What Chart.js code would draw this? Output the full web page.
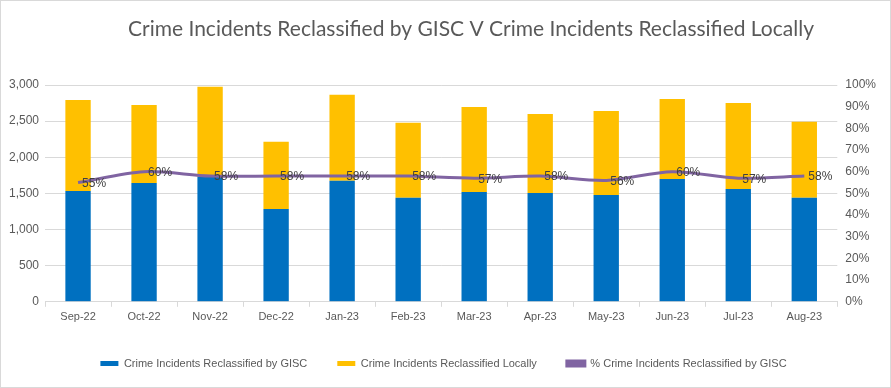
<!DOCTYPE html>
<html>
<head>
<meta charset="utf-8">
<script src="https://cdn.jsdelivr.net/npm/chart.js@4.4.0/dist/chart.umd.min.js"></script>
<style>
  html, body { margin: 0; padding: 0; background: #fff; }
  #wrap { position: relative; width: 889px; height: 386px; border: 1px solid #d9d9d9; }
</style>
</head>
<body>
<div id="wrap"><canvas id="chart"></canvas></div>
<script>
const months = ['Sep-22', 'Oct-22', 'Nov-22', 'Dec-22', 'Jan-23', 'Feb-23', 'Mar-23', 'Apr-23', 'May-23', 'Jun-23', 'Jul-23', 'Aug-23'];
const byGisc = [1532, 1643, 1731, 1283, 1675, 1440, 1518, 1505, 1477, 1698, 1560, 1440];
const locally = [1260, 1080, 1246, 932, 1191, 1038, 1177, 1093, 1163, 1108, 1191, 1052];
const pctGisc = [0.55, 0.60, 0.58, 0.58, 0.58, 0.58, 0.57, 0.58, 0.56, 0.60, 0.57, 0.58];
const chartTitle = 'Crime Incidents Reclassified by GISC V Crime Incidents Reclassified Locally';

const textColor = '#595959';
const gridColor = '#d9d9d9';
const tickFont = { size: 12, family: '"Liberation Sans", Arial' };

// title sits a little right of centre in the original, so draw it ourselves
const titlePlugin = {
    id: 'titlePlugin',
    afterDraw(chart) {
        const ctx = chart.ctx;
        ctx.save();
        ctx.font = '21px Lato, "Open Sans", sans-serif';
        ctx.fillStyle = textColor;
        ctx.textAlign = 'center';
        ctx.textBaseline = 'middle';
        ctx.fillText(chartTitle, 470, 28);
        ctx.restore();
    }
};

// draws the % labels just right of each point on the line
const lineLabels = {
    id: 'lineLabels',
    afterDatasetsDraw(chart) {
        const ctx = chart.ctx;
        const meta = chart.getDatasetMeta(2);
        ctx.save();
        ctx.font = '12px "Liberation Sans", Arial, sans-serif';
        ctx.fillStyle = '#404040';
        ctx.textAlign = 'left';
        ctx.textBaseline = 'middle';
        meta.data.forEach((pt, i) => {
            ctx.fillText(Math.round(pctGisc[i] * 100) + '%', pt.x + 4, pt.y + 1);
        });
        ctx.restore();
    }
};

new Chart(document.getElementById('chart'), {
    type: 'bar',
    data: {
        labels: months,
        datasets: [
            {
                label: 'Crime Incidents Reclassified by GISC',
                data: byGisc,
                backgroundColor: '#0070c0',
                stack: 's',
                yAxisID: 'y',
                order: 2
            },
            {
                label: 'Crime Incidents Reclassified Locally',
                data: locally,
                backgroundColor: '#ffc000',
                stack: 's',
                yAxisID: 'y',
                order: 2
            },
            {
                type: 'line',
                label: '% Crime Incidents Reclassified by GISC',
                data: pctGisc,
                borderColor: '#8064a2',
                backgroundColor: '#8064a2',
                borderWidth: 3,
                pointRadius: 0,
                tension: 0.3,
                yAxisID: 'y1',
                order: 1
            }
        ]
    },
    options: {
        responsive: true,
        maintainAspectRatio: false,
        animation: false,
        layout: { padding: { left: 2, right: 6, top: 84, bottom: 8 } },
        datasets: { bar: { barPercentage: 0.48, categoryPercentage: 0.8 } },
        scales: {
            x: {
                stacked: true,
                grid: { display: true, drawOnChartArea: false, offset: true, color: gridColor, tickLength: 5 },
                border: { color: gridColor },
                ticks: { color: textColor, font: { size: 11, family: '"Liberation Sans", Arial' }, maxRotation: 0, padding: 4 }
            },
            y: {
                stacked: true,
                min: 0, max: 3000,
                position: 'left',
                grid: { color: gridColor, drawTicks: false },
                border: { display: false },
                ticks: { stepSize: 500, color: textColor, padding: 6, font: tickFont,
                    callback: v => v.toLocaleString('en-US') }
            },
            y1: {
                min: 0, max: 1,
                position: 'right',
                grid: { display: false, drawTicks: false },
                border: { display: false },
                ticks: { stepSize: 0.1, color: textColor, padding: 8, font: tickFont,
                    callback: v => Math.round(v * 100) + '%' }
            }
        },
        plugins: {
            title: { display: false },
            legend: {
                position: 'bottom',
                labels: {
                    color: textColor,
                    font: { size: 11, family: '"Liberation Sans", Arial' },
                    boxWidth: 18,
                    boxHeight: 5,
                    padding: 30,
                    sort: (a, b) => a.datasetIndex - b.datasetIndex
                }
            },
            tooltip: { enabled: false }
        }
    },
    plugins: [lineLabels, titlePlugin]
});
</script>
</body>
</html>
